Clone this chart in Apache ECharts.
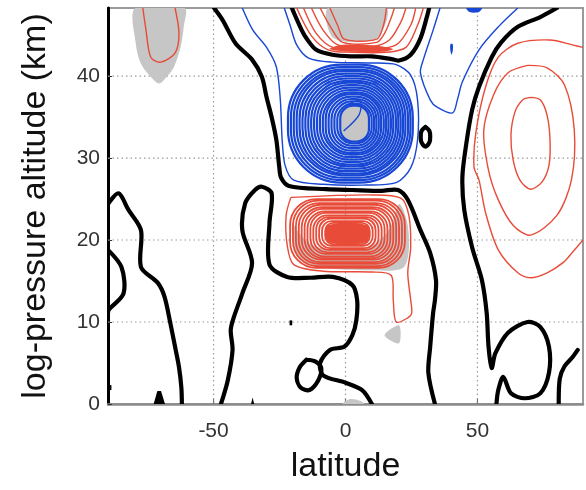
<!DOCTYPE html>
<html><head><meta charset="utf-8">
<script src="https://cdn.jsdelivr.net/npm/echarts@6/dist/echarts.min.js"></script>
<style>html,body{margin:0;padding:0;background:#fff}#c{width:586px;height:490px}</style>
</head><body><div id="c"></div>
<script>
// ---- axis ticks ----
const xTicks = [-50, 0, 50];
const yTicks = [0, 10, 20, 30, 40];
const latMin = -90, latMax = 90, altMin = 0, altMax = 48.3;

// ---- zero contours (black), [latitude, altitude] ----
const zeroContours = [
  [[-49.8,48.3],[-46.5,46.8],[-41.7,44],[-35.4,42],[-31.7,39.9],[-29.9,37.4],[-28,35],[-26.2,32.2],[-25.1,28.9],[-24.4,27.6],[-21.4,26.6],[-7.4,26.2],[2.6,26.1],[13.7,26],[19.9,26.1],[23.6,24.9],[28.4,21.2],[32.1,18.4],[34.3,15.1],[33.9,12.7],[33.2,11.1],[32.1,7],[31.4,3.8],[33.9,0]],
  [[-20.3,48.3],[-19.4,47.6],[-16.6,45.6],[-14.8,44.6],[-11.1,43.2],[-5,42.6],[2,42.4],[10,42.4],[17,42.1],[20.3,41.9],[24.7,42.6],[28.4,44.6],[31,47.4],[31.7,48.3]],
  [[-90,24.4],[-86,25.7],[-82.3,23.7],[-77.5,21.2],[-77.5,16.7],[-71.2,14.8],[-68.6,13.1],[-66.4,9.9],[-64.6,7],[-63.1,4.5],[-62.2,2],[-62,0]],
  [[-90,18.8],[-84.9,16.7],[-84.1,13.5],[-89.7,11.5],[-90,11.1]],
  [[-47.2,0],[-44.6,2.9],[-42.8,6.6],[-43.5,9],[-42.4,10.5],[-39.1,13.5],[-35.4,17.2],[-39.1,21.2],[-38,24.5],[-34.3,26.1],[-31.7,26.5],[-28,25.7],[-28.8,22.1],[-28.8,17],[-22.1,15.5],[-13.3,15.4],[-4.8,15.5],[2.6,14.5],[4.4,12.7],[4.1,10.2],[2.6,8.4],[-0.4,7],[-5.9,6.6],[-9.6,5],[-8.5,3.5],[0,2.6],[6.3,1.7],[10,0]],
  [[-14.8,5.4],[-11.5,5.2],[-9.2,4.4],[-10.3,2.9],[-13.7,1.7],[-17,2],[-18.5,3.2],[-17.3,4.5],[-14.8,5.4]],
  [[30.3,33.8],[31.8,33.3],[32.1,32.6],[31.8,31.9],[30.3,31.4],[28.8,31.9],[28.5,32.6],[28.8,33.3],[30.3,33.8]],
  [[80.1,48.3],[73.8,47.2],[65.3,46],[59,44.1],[55.4,42.3],[50.6,38.7],[48,35.9],[45.8,31.8],[44.3,27.7],[45,23.7],[48,19.1],[51.7,15.1],[53.5,11.1],[54.2,7],[55.4,4.4],[56.8,6.2],[61.6,8.7],[69,10],[73.8,9.4],[77.1,7],[77.1,3.8],[73.8,1.3],[67.9,0.7],[62.7,1.3],[59.8,3.3],[57.9,1.7],[57.2,0]],
  [[88,6.6],[86,5.7],[83,4.6],[81.2,3.1],[80.8,0]]
];
const zeroSpecks = [
  [[-21.2,10.2],[-20.2,10.2],[-20.2,9.6],[-21.2,9.6]],
  [[-72.7,0],[-71.3,1.6],[-69.9,1.6],[-68.4,0]],
  [[-35.8,0],[-35.2,0.8],[-34.6,0]],
  [[-90,2.3],[-88.7,2.3],[-88.7,1.7],[-90,1.7]]
];

// ---- negative contours (blue) ----
const blueLines = [
  [[-39.1,48.3],[-35.1,45.6],[-29.9,43.5],[-26.2,41.1],[-24.7,37.1],[-24,32.2],[-22.9,29.1],[-19.6,27.3],[-8.5,26.8],[6.3,26.7],[19.2,27],[24.7,28.8],[27.3,32.2],[27.3,37.1],[24.7,40.1],[19.2,41.4],[10,41.6],[-4.8,41.7],[-14,42.2],[-18.5,43.8],[-21,46.2],[-23.2,48.3]],
  [[35.8,48.3],[33.2,45.6],[29.5,42],[28.4,40.4],[32.1,37.1],[34.7,36.2],[40.6,35.5],[42.4,37.1],[44.3,39.3],[50.6,43.2],[57.9,46],[65.3,48.3]],
  [[-0.7,33.3],[5.2,35.3],[5.5,37],[0,36.4]]
];
const blueSpecks = [
  [[39.8,43.9],[40.6,43.9],[40.7,43.2],[40.2,42.6],[39.7,43.2]],
  [[45.8,48.3],[47,47.8],[50.5,47.8],[51.7,48.3]]
];
// rings: [south edge, north edge, bottom km, top km]
const blueRings = [
  [-21.8,25.5,27.0,41.4],[-20.7,24.6,27.3,41.1],[-19.6,23.7,27.6,40.8],[-18.5,22.7,27.9,40.6],
  [-17.4,21.8,28.1,40.3],[-16.3,20.9,28.4,40.0],[-15.2,20.0,28.7,39.7],[-14.1,19.1,29.0,39.4],
  [-13.0,18.1,29.2,39.2],[-11.9,17.2,29.5,38.9],[-10.8,16.3,29.8,38.6],[-9.7,15.4,30.1,38.3],
  [-8.6,14.5,30.4,38.0],[-7.5,13.5,30.6,37.8],[-6.4,12.6,30.9,37.5],[-5.3,11.7,31.2,37.2],
  [-4.2,10.8,31.5,36.9],[-3.1,9.9,31.8,36.6],[-2.0,8.9,32.0,36.4]
];

// ---- positive contours (red) ----
const redLines = [
  [[-20.7,25.2],[10,25.5],[21,25.1],[24,23],[24.7,19.1],[23.6,16],[24.7,12.7],[25.1,11.1],[23.6,10.5],[19.2,10],[18.1,12.7],[17.3,15.7],[10,16.1],[-8.5,16.2],[-19.6,17],[-22.1,19.4],[-22.5,23],[-20.7,25.2]],
  [[-18.5,48.3],[-12.9,44.9],[-6.6,43.2],[2.6,42.9],[15.5,42.9],[22.9,43.5],[27.3,46.2],[29.5,48.3]],
  [[-15.9,48.3],[-11.1,45.2],[-4.8,43.5],[10,43.3],[19.2,43.8],[24.7,46.2],[26.6,48.3]],
  [[-12.9,48.3],[-8.5,45.6],[-2.9,43.8],[10,43.6],[16.6,44.4],[21,46.6],[22.9,48.3]],
  [[-9.6,48.3],[-5.5,45.9],[-1.1,44.1],[11.8,44.1],[14.8,45.2],[17.3,47.1],[18.5,48.3]],
  [[-5.9,48.3],[-3,46.2],[-0.4,44.5],[11.8,44.5],[14.4,46.2],[15.5,48.3]],
  [[90,43.5],[86,43.8],[77.5,44.4],[65.3,44],[57.9,42.3],[53.1,38.7],[49.4,33.1],[48.7,28.9],[50.6,27.3],[53.1,23.3],[57.9,18.8],[65.3,16],[70.1,15.4],[76.4,16],[82.7,17.3],[86,18.5],[90,20]],
  [[69,41.3],[76.4,41],[83,38.9],[86.7,33.4],[85.6,27.3],[80.1,23],[70.1,20.6],[63.5,21.8],[57.9,24.9],[54.2,28.5],[52.4,33.4],[56.1,37.7],[61.6,40.4],[69,41.3]],
  [[70.1,37.4],[73.8,37.1],[76.4,35.2],[77.5,32.2],[77.1,29.1],[74.5,27.1],[70.1,26.2],[66.1,27.3],[63.5,29.8],[62.7,32.8],[64.2,35.6],[67.2,37.1],[70.1,37.4]],
  [[-76.8,48.3],[-75.6,45.6],[-73.8,42.3],[-70.1,41.7],[-64.6,42.8],[-63.1,45.2],[-64.6,48.3]]
];
const redSpecks = [
  [[-6,43.3],[2,42.95],[14,42.95],[18,43.3],[10,43.75],[-2,43.8]],
  [[-6.6,19.8],[8.1,19.8],[8.1,21.8],[-6.6,21.8]]
];
const redRings = [
  [-21,22.5,16.6,25.0],[-19.9,21.4,16.8,24.8],[-18.8,20.3,17.1,24.5],[-17.7,19.2,17.3,24.3],
  [-16.6,18.1,17.6,24.0],[-15.5,17.0,17.8,23.8],[-14.4,15.9,18.0,23.5],[-13.3,14.8,18.3,23.3],
  [-12.2,13.7,18.5,23.0],[-11.1,12.5,18.8,22.8],[-10.0,11.4,19.0,22.6],[-8.9,10.3,19.3,22.3],
  [-7.7,9.2,19.5,22.1]
];

// ---- significance shading (grey) ----
const grayAreas = [
  [[-79.7,48.3],[-79.5,44],[-77.5,41.5],[-73.5,39.8],[-70.5,39.1],[-67.5,40],[-65,41.1],[-62.5,43.5],[-61.3,46],[-61,48.3]],
  [[-6.6,48.3],[-4.4,44.6],[11.8,44.6],[15.5,48.3]],
  [[-0.9,36.1],[7.8,36.1],[7.8,32.3],[-0.9,32.3]],
  [[-20.3,22.1],[-18.8,18.4],[-12.2,16.8],[10,16.3],[21.8,16.6],[24,18.8],[23.3,22.3],[20.3,24.4],[16.6,21.3],[10,19.3],[-1.1,18.8],[-12.2,19.3],[-17.7,20.9]],
  [[14.8,8.4],[20.3,9.6],[20.3,7.4]],
  [[-1.1,0],[1.8,0.6],[5.5,0.4],[7,0]]
];

const FONT = '"Liberation Sans", Arial, Helvetica, sans-serif';
const BLACK = '#000000', BLUE = '#1747d4', RED = '#e84b38', GRAY = '#c6c6c6';

function shapeSeries(shapes, kind, style, z, smooth) {
  return {
    type: 'custom', coordinateSystem: 'cartesian2d', clip: true, silent: true, z: z,
    data: shapes.map(s => [s[0][0], s[0][1]]),
    renderItem: (params, api) => {
      const pts = shapes[params.dataIndex].map(p => api.coord(p));
      return { type: kind, shape: { points: pts, smooth: smooth || 0 }, style: Object.assign({}, style) };
    }
  };
}
function ringSeries(rings, style, z, rf) {
  return {
    type: 'custom', coordinateSystem: 'cartesian2d', clip: true, silent: true, z: z,
    data: rings,
    renderItem: (params, api) => {
      const a = api.coord([api.value(0), api.value(3)]);
      const b = api.coord([api.value(1), api.value(2)]);
      const w = b[0] - a[0], h = b[1] - a[1];
      return { type: 'rect', shape: { x: a[0], y: a[1], width: w, height: h, r: Math.min(w, h) * rf }, style: Object.assign({}, style) };
    }
  };
}
const gridLines = {
  type: 'custom', coordinateSystem: 'cartesian2d', clip: true, silent: true, z: 1,
  data: xTicks.map(v => [v, 0]).concat(yTicks.filter(v => v > 0).map(v => [latMin, v])),
  renderItem: (params, api) => {
    const i = params.dataIndex;
    let p1, p2;
    if (i < xTicks.length) { p1 = api.coord([xTicks[i], altMin]); p2 = api.coord([xTicks[i], altMax]); }
    else { const v = yTicks.filter(t => t > 0)[i - xTicks.length]; p1 = api.coord([latMin, v]); p2 = api.coord([latMax, v]); }
    const children = [{ type: 'line', shape: { x1: p1[0], y1: p1[1], x2: p2[0], y2: p2[1] },
      style: { stroke: '#9a9a9a', lineWidth: 1.2, lineDash: [1.5, 3] } }];
    if (i < xTicks.length) children.push({ type: 'line', shape: { x1: p1[0], y1: p1[1], x2: p1[0], y2: p1[1] - 5 }, style: { stroke: '#777', lineWidth: 1.2 } });
    return { type: 'group', children };
  }
};

const chart = echarts.init(document.getElementById('c'), null, { renderer: 'canvas' });
chart.setOption({
  animation: false,
  backgroundColor: '#fff',
  textStyle: { fontFamily: FONT },
  grid: { left: 108, top: 8, right: -11, bottom: 86, show: true, borderColor: '#9a9a9a', borderWidth: 2, backgroundColor: 'transparent' },
  xAxis: {
    type: 'value', min: latMin, max: latMax, interval: 10,
    axisLine: { show: true, onZero: false, lineStyle: { color: '#8c8c8c', width: 2.5 } },
    axisTick: { show: false }, splitLine: { show: false },
    axisLabel: { fontSize: 21, color: '#333', margin: 17, fontFamily: FONT,
      formatter: v => { const r = Math.round(v); return (Math.abs(v - r) < 1e-6 && xTicks.includes(r)) ? String(r) : ''; } },
    name: 'latitude', nameLocation: 'middle', nameGap: 46,
    nameTextStyle: { fontSize: 34, color: '#111', fontFamily: FONT }
  },
  yAxis: {
    type: 'value', min: altMin, max: altMax, interval: 10,
    axisLine: { show: true, onZero: false, lineStyle: { color: '#000', width: 3 } },
    axisTick: { show: true, inside: true, length: 4, lineStyle: { color: '#333' } },
    splitLine: { show: false },
    axisLabel: { fontSize: 21, color: '#333', margin: 8, showMaxLabel: false, fontFamily: FONT,
      formatter: v => yTicks.includes(v) ? String(v) : '' },
    name: 'log-pressure altitude (km)', nameLocation: 'middle', nameGap: 55,
    nameTextStyle: { fontSize: 34, color: '#111', fontFamily: FONT }
  },
  series: [
    gridLines,
    shapeSeries(grayAreas, 'polygon', { fill: GRAY }, 2, 0.3),
    ringSeries(blueRings, { stroke: BLUE, lineWidth: 2.2, fill: 'none' }, 3, 0.45),
    ringSeries(redRings, { stroke: RED, lineWidth: 1.8, fill: 'none' }, 3, 0.38),
    shapeSeries(blueLines, 'polyline', { stroke: BLUE, lineWidth: 1.4, fill: 'none', lineJoin: 'round' }, 3, 0.3),
    shapeSeries(blueSpecks, 'polygon', { fill: BLUE }, 3, 0.3),
    shapeSeries(redLines, 'polyline', { stroke: RED, lineWidth: 1.4, fill: 'none', lineJoin: 'round' }, 3, 0.3),
    shapeSeries(redSpecks, 'polygon', { fill: RED }, 3, 0.3),
    shapeSeries(zeroContours, 'polyline', { stroke: BLACK, lineWidth: 4.2, fill: 'none', lineJoin: 'round', lineCap: 'round' }, 4, 0.3),
    shapeSeries(zeroSpecks, 'polygon', { fill: BLACK }, 4, 0)
  ]
});
</script>
</body></html>
